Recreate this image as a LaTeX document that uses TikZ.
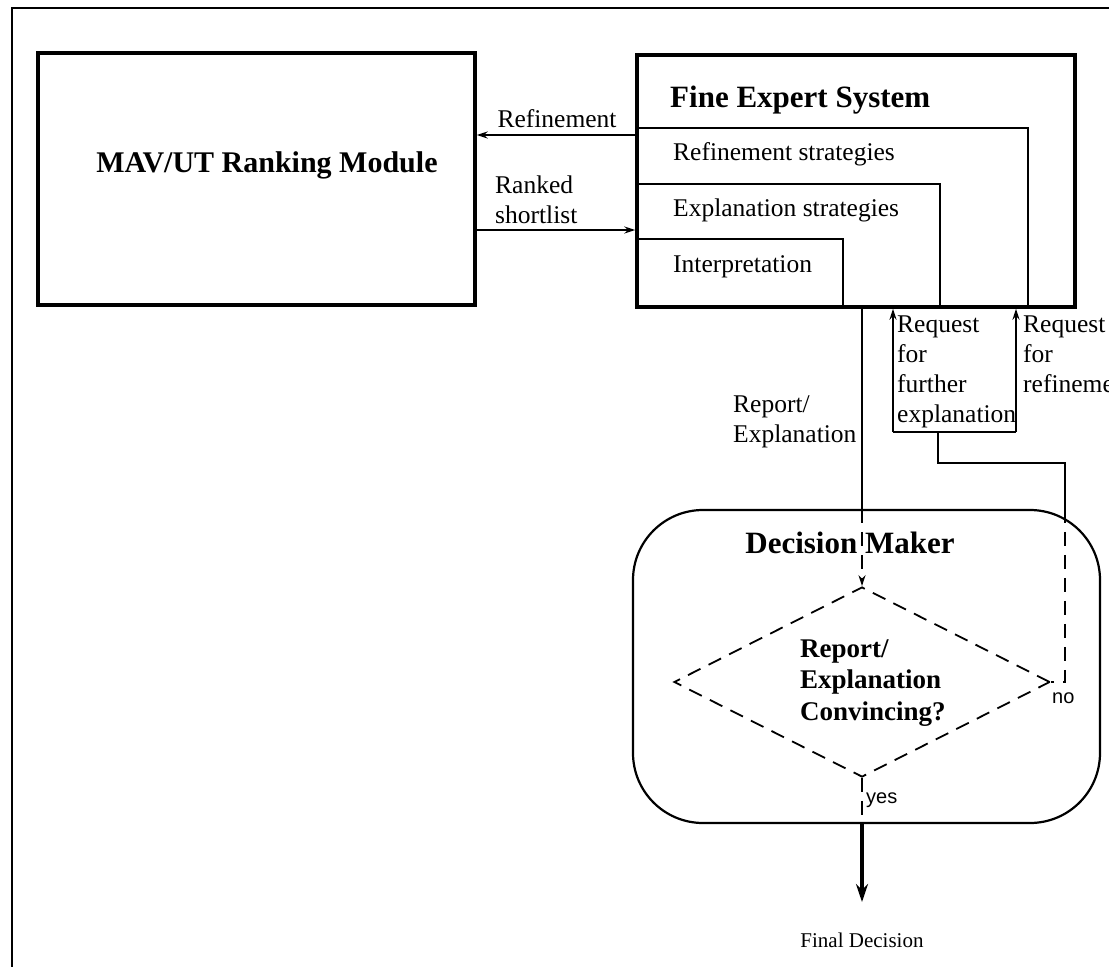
\documentclass[tikz,border=0pt]{standalone}
\usepackage{fontspec}
\setmainfont{Liberation Serif}
\newfontfamily\labsans{Liberation Sans}
\usetikzlibrary{shapes.geometric,arrows.meta}
\begin{document}
\begin{tikzpicture}[x=1pt,y=-1pt,
  box/.style={draw, line width=3.4pt, inner sep=0pt},
  thinline/.style={line width=1.8pt},
  arr/.style={thinline, -{Stealth[length=11pt,width=7pt]}},
  bigarr/.style={line width=3.4pt, -{Stealth[length=18pt,width=12pt]}},
  dashline/.style={line width=1.8pt, dash pattern=on 14pt off 9pt},
  txt/.style={font=\fontsize{25.5}{30}\selectfont, inner sep=0pt},
  sanstxt/.style={font=\labsans\fontsize{20}{24}\selectfont, inner sep=0pt},
  title/.style={font=\fontsize{31}{35}\selectfont\bfseries, inner sep=0pt},
  qtitle/.style={font=\fontsize{27}{31.5}\selectfont\bfseries, inner sep=0pt, align=left}]

% page area
\path[fill=white] (0,0) rectangle (1109,967);
\useasboundingbox (0,0) rectangle (1109,967);

% outer frame (runs off the page at right and bottom)
\draw[line width=2pt] (12,990) -- (12,8) -- (1130,8);

% main boxes
\node[box, minimum width=437pt, minimum height=252pt] (mav) at (256.5,179) {};
\node[box, minimum width=438pt, minimum height=252pt] (fes) at (856,181) {};
\node[draw, line width=2.2pt, rounded corners=70pt, minimum width=467pt,
      minimum height=313pt, inner sep=0pt] (dm) at (866.5,666.5) {};
\node[diamond, draw, dashline, aspect=2, minimum width=376pt,
      minimum height=190pt, inner sep=0pt] (dia) at (862,682) {};

% titles
\node[title, font=\fontsize{30}{34}\selectfont\bfseries] (mavt) at (267,165) {MAV/UT Ranking Module};
\node[title, anchor=base west] (fest) at (670,107) {Fine Expert System};
\node[title, anchor=base] (dmt) at (850,553) {Decision Maker};
\node[qtitle, anchor=base west] (q) at (800,720) {Report/\\Explanation\\Convincing?};

% nested compartments of the expert system
\coordinate (c1) at (1028,128);
\coordinate (c2) at (940,184);
\coordinate (c3) at (843,239);
\draw[thinline] (fes.west |- c1) -- (c1) -- (c1 |- fes.south);
\draw[thinline] (fes.west |- c2) -- (c2) -- (c2 |- fes.south);
\draw[thinline] (fes.west |- c3) -- (c3) -- (c3 |- fes.south);
\node[txt, anchor=base west] (rs) at (673,160) {Refinement strategies};
\node[txt, anchor=base west] (es) at (673,216) {Explanation strategies};
\node[txt, anchor=base west] (ip) at (673,272) {Interpretation};

% links between ranking module and expert system
\coordinate (yref) at (0,135);
\coordinate (yrank) at (0,230);
\draw[arr] (fes.west |- yref) -- (mav.east |- yref);
\draw[arr] (mav.east |- yrank) -- (fes.west |- yrank);
\node[txt, anchor=base] (refl) at (557,127) {Refinement};
\node[txt, anchor=base west, align=left] (rkl) at (495,223) {Ranked\\shortlist};

% report to decision maker
\draw[thinline] (dia.north |- fes.south) -- (dia.north |- dm.north);
\draw[dashline, -{Stealth[length=11pt,width=7pt]}] (dia.north |- dm.north) -- (dia.north);
\node[txt, anchor=base west, align=left] (repl) at (733,442) {Report/\\Explanation};

% feedback requests
\coordinate (rqL) at (893,432);
\coordinate (rqR) at (1016,432);
\coordinate (fb) at (938,432);
\coordinate (fk) at (938,463);
\coordinate (nk) at (1065,463);
\coordinate (nd) at (1065,682);
\draw[arr] (rqL) -- (rqL |- fes.south);
\draw[arr] (rqR) -- (rqR |- fes.south);
\draw[thinline] (rqL) -- (rqR);
\draw[thinline] (fb) -- (fk) -- (nk) -- (nk |- dm.north);
\draw[dashline] (nk |- dm.north) -- (nd) -- (dia.east);
\node[txt, anchor=base west, align=left] (rqe) at (897,422) {Request\\for\\further\\explanation};
\node[txt, anchor=base west, align=left] (rqr) at (1023,392) {Request\\for\\refinement};
\node[sanstxt, anchor=base west] (no) at (1052,703) {no};

% final decision
\coordinate (tip) at (862,902);
\draw[dashline] (dia.south) -- (dia.south |- dm.south);
\draw[bigarr] (dia.south |- dm.south) -- (tip);
\node[sanstxt, anchor=base west] (yes) at (866,803) {yes};
\node[font=\fontsize{21}{25}\selectfont, inner sep=0pt] (fd) at (862,940) {Final Decision};
\end{tikzpicture}
\end{document}
